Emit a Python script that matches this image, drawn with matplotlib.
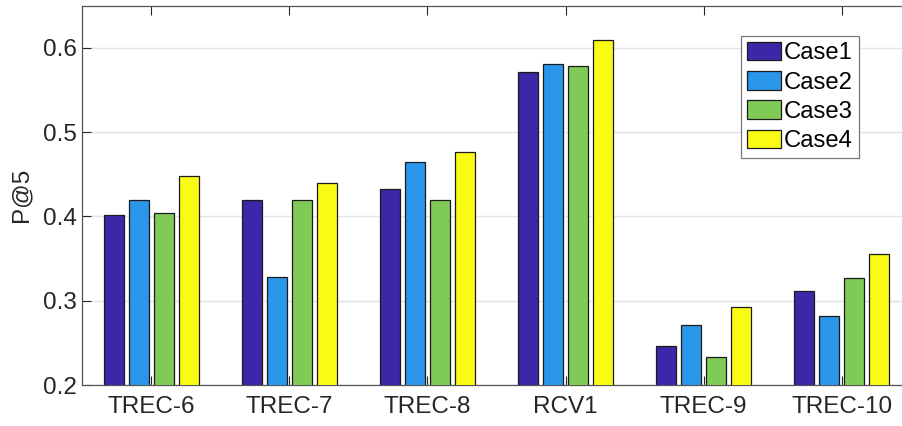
import numpy as np
import matplotlib.pyplot as plt

plt.rcParams['font.family'] = ['Liberation Sans', 'DejaVu Sans']

# data
datasets = ['TREC-6', 'TREC-7', 'TREC-8', 'RCV1', 'TREC-9', 'TREC-10']
case1 = [0.402, 0.420, 0.432, 0.571, 0.246, 0.311]
case2 = [0.420, 0.328, 0.465, 0.581, 0.271, 0.282]
case3 = [0.404, 0.420, 0.420, 0.579, 0.233, 0.327]
case4 = [0.448, 0.440, 0.476, 0.609, 0.292, 0.356]
case_names = ['Case1', 'Case2', 'Case3', 'Case4']

# parula-like colours
colors = ['#3E26A8', '#2A96E9', '#80CB58', '#F9FB15']

fig = plt.figure(figsize=(9.02, 4.26), dpi=100)
ax = fig.add_axes([0.0909, 0.0962, 0.919, 0.8904])

x = np.arange(1, len(datasets) + 1)
pitch = 0.181
width = 0.145
for i, (vals, name) in enumerate(zip([case1, case2, case3, case4], case_names)):
    ax.bar(x + (i - 1.5) * pitch, vals, width, color=colors[i],
           edgecolor='#1a1a1a', linewidth=0.9, label=name, zorder=3)

ax.set_xlim(0.5, 6.5)
ax.set_ylim(0.2, 0.65)
ax.set_xticks(x)
ax.set_xticklabels(datasets)
ax.set_yticks([0.2, 0.3, 0.4, 0.5, 0.6])
ax.set_yticklabels(['0.2', '0.3', '0.4', '0.5', '0.6'])
ax.set_ylabel('P@5', fontsize=17.5, color='#262626', labelpad=8)

ax.yaxis.grid(True, color='#e3e3e3', linewidth=1.0, zorder=0)
ax.set_axisbelow(True)
ax.tick_params(direction='in', length=6.5, width=0.8, labelsize=17.5,
               colors='#262626', top=True, right=True)
ax.tick_params(axis='x', pad=8)
for s in ax.spines.values():
    s.set_color('#555555')
    s.set_linewidth(0.9)

leg = ax.legend(loc='upper right', bbox_to_anchor=(0.952, 0.916),
                bbox_transform=fig.transFigure, borderaxespad=0,
                fontsize=17.2, handlelength=1.4, handleheight=0.82,
                handletextpad=0.12, labelspacing=0.28, borderpad=0.25,
                fancybox=False, framealpha=1, edgecolor='#777777')
leg.get_frame().set_linewidth(0.9)

fig.savefig('out.png', dpi=100)
